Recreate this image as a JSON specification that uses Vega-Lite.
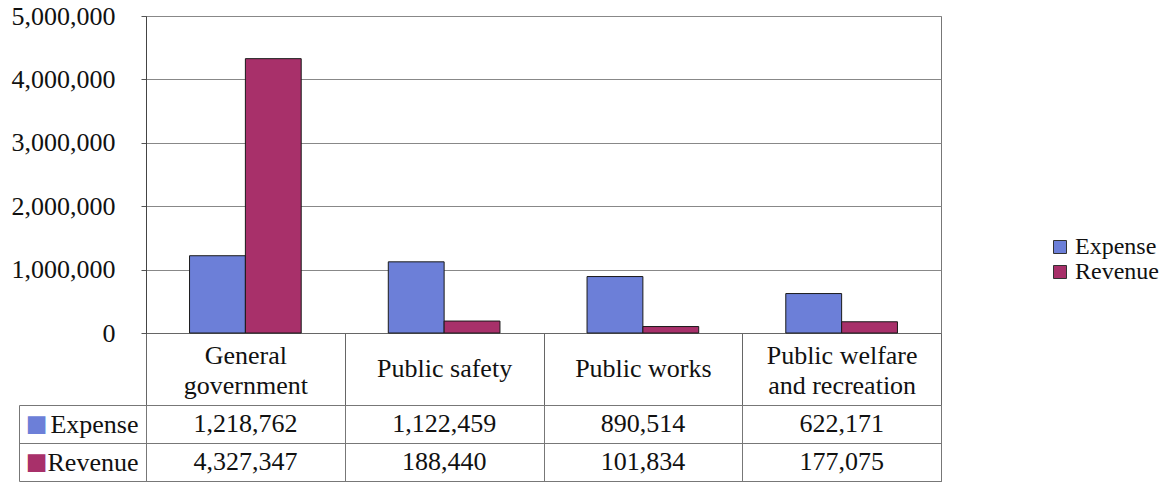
{
  "$schema": "https://vega.github.io/schema/vega-lite/v6.json",
  "padding": {"left": 10, "top": 2, "right": 5, "bottom": 0},
  "background": "white",
  "spacing": 72,
  "bounds": "flush",
  "config": {
    "view": {"stroke": "#777777"},
    "font": "Liberation Serif",
    "axis": {"labelFont": "Liberation Serif", "labelColor": "#111111", "titleFont": "Liberation Serif"},
    "legend": {"labelFont": "Liberation Serif"}
  },
  "datasets": {
    "d": [
      {"category": "General government", "series": "Expense", "value": 1218762},
      {"category": "General government", "series": "Revenue", "value": 4327347},
      {"category": "Public safety", "series": "Expense", "value": 1122459},
      {"category": "Public safety", "series": "Revenue", "value": 188440},
      {"category": "Public works", "series": "Expense", "value": 890514},
      {"category": "Public works", "series": "Revenue", "value": 101834},
      {"category": "Public welfare and recreation", "series": "Expense", "value": 622171},
      {"category": "Public welfare and recreation", "series": "Revenue", "value": 177075}
    ]
  },
  "vconcat": [
    {
      "width": 795,
      "height": 317,
      "data": {"name": "d"},
      "mark": {"type": "bar", "stroke": "#1a1a1a", "strokeWidth": 1},
      "encoding": {
        "x": {
          "field": "category", "type": "nominal", "sort": null,
          "scale": {"paddingInner": 0, "paddingOuter": 0},
          "axis": {
            "title": null, "labelAngle": 0, "labelFont": "Liberation Serif", "labelFontSize": 26,
            "labelExpr": "datum.label == 'General government' ? ['General', 'government'] : datum.label == 'Public welfare and recreation' ? ['Public welfare', 'and recreation'] : datum.label",
            "labelLineHeight": 30, "labelBaseline": "middle",
            "labelPadding": {"condition": {"test": "datum.value == 'General government' || datum.value == 'Public welfare and recreation'", "value": -50}, "value": -37},
            "tickBand": "extent", "tickSize": 72, "tickColor": "#666666",
            "domainColor": "#666666", "labelOverlap": false
          }
        },
        "xOffset": {"field": "series", "type": "nominal", "sort": null, "scale": {"paddingInner": 0, "paddingOuter": 0.78}},
        "y": {
          "field": "value", "type": "quantitative",
          "scale": {"domain": [0, 5000000], "nice": false},
          "axis": {
            "title": null, "values": [0, 1000000, 2000000, 3000000, 4000000, 5000000], "format": ",d",
            "labelFont": "Liberation Serif", "labelFontSize": 26, "labelPadding": 26, "tickSize": 5, "tickColor": "#555555",
            "domainColor": "#444444", "grid": true, "gridColor": "#888888"
          }
        },
        "color": {
          "field": "series", "type": "nominal", "sort": null,
          "scale": {"domain": ["Expense", "Revenue"], "range": ["#6C7FD8", "#A8306A"]},
          "legend": {
            "title": null, "orient": "none", "legendX": 902, "legendY": 219,
            "labelFont": "Liberation Serif", "labelFontSize": 24, "labelColor": "#111111",
            "symbolType": "square", "symbolSize": 169, "symbolStrokeColor": "#333333",
            "symbolStrokeWidth": 1, "symbolOpacity": 1, "labelOffset": 3, "rowPadding": 1
          }
        }
      }
    },
    {
      "width": 795,
      "height": 76,
      "data": {"name": "d"},
      "layer": [
        {
          "mark": {"type": "text", "fontSize": 26, "font": "Liberation Serif", "color": "#111111"},
          "encoding": {
            "x": {
              "field": "category", "type": "nominal", "sort": null,
              "scale": {"paddingInner": 0, "paddingOuter": 0},
              "axis": {"title": null, "labels": false, "ticks": false, "domain": false, "grid": true, "gridColor": "#777777", "tickBand": "extent"}
            },
            "y": {
              "field": "series", "type": "nominal", "sort": null,
              "axis": {
                "orient": "left", "title": null, "domain": false, "grid": true, "gridColor": "#777777",
                "tickBand": "extent", "tickSize": 127, "tickColor": "#777777",
                "labelPadding": -119, "labelFont": "Liberation Serif", "labelFontSize": 26
              }
            },
            "text": {"field": "value", "type": "quantitative", "format": ",d"}
          }
        },
        {
          "mark": {"type": "text", "text": ""},
          "encoding": {
            "y": {
              "field": "series", "type": "nominal", "sort": null,
              "axis": {
                "orient": "left", "offset": 127, "title": null, "domain": true, "domainColor": "#777777",
                "ticks": false, "grid": false, "labelExpr": "'■'", "labelFont": "DejaVu Sans",
                "labelFontSize": 23, "labelAlign": "center", "labelPadding": -17,
                "labelColor": {"condition": {"test": "datum.value === 'Expense'", "value": "#6C7FD8"}, "value": "#A8306A"}
              }
            }
          }
        }
      ],
      "resolve": {"axis": {"y": "independent"}}
    }
  ]
}
